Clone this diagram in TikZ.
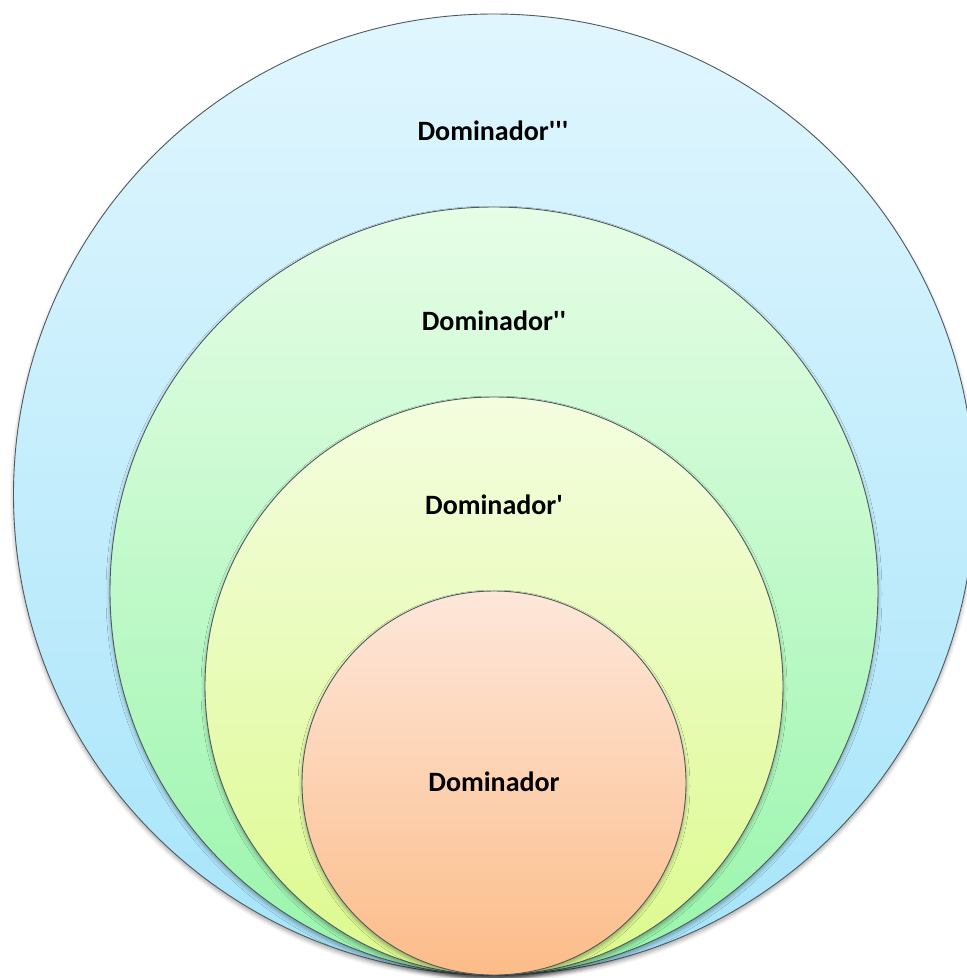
\documentclass[tikz,border=0pt]{standalone}
\usepackage{fontspec}
\newfontfamily\lblfont{Carlito}
\usetikzlibrary{shadows.blur}
\definecolor{skyTop}{HTML}{E0F6FE}
\definecolor{skyBot}{HTML}{A6E4FA}
\definecolor{mintTop}{HTML}{E6FDE6}
\definecolor{mintBot}{HTML}{98F5AB}
\definecolor{limeTop}{HTML}{F4FDE0}
\definecolor{limeBot}{HTML}{DCFA8C}
\definecolor{peachTop}{HTML}{FDE7DA}
\definecolor{peachBot}{HTML}{FCBC88}
\definecolor{rim}{HTML}{505A60}
\tikzset{
  ring/.style={circle, inner sep=0pt, draw=rim, line width=0.9pt,
    blur shadow={shadow xshift=0pt, shadow yshift=-3pt, shadow blur radius=4pt,
      shadow blur steps=6, shadow opacity=35}},
  lbl/.style={font=\lblfont\bfseries\fontsize{28}{31}\selectfont, text=black, inner sep=0pt}
}
\begin{document}
\begin{tikzpicture}[x=1pt, y=-1pt]
  \useasboundingbox (0,0) rectangle (967,978);
  % nested sets, all touching at the bottom
  \node[ring, minimum size=961pt, top color=skyTop, bottom color=skyBot] (d3) at (494,494.5) {};
  \node[ring, minimum size=768pt, top color=mintTop, bottom color=mintBot] (d2) at (494,591) {};
  \node[ring, minimum size=578pt, top color=limeTop, bottom color=limeBot] (d1) at (494,686) {};
  \node[ring, minimum size=384pt, top color=peachTop, bottom color=peachBot] (d0) at (494,783) {};
  % labels
  \node[lbl] (t3) at (493,131) {Dominador\textquotesingle\textquotesingle\textquotesingle};
  \node[lbl] (t2) at (494,321) {Dominador\textquotesingle\textquotesingle};
  \node[lbl] (t1) at (494,505) {Dominador\textquotesingle};
  \node[lbl] (t0) at (494,782) {Dominador};
\end{tikzpicture}
\end{document}
